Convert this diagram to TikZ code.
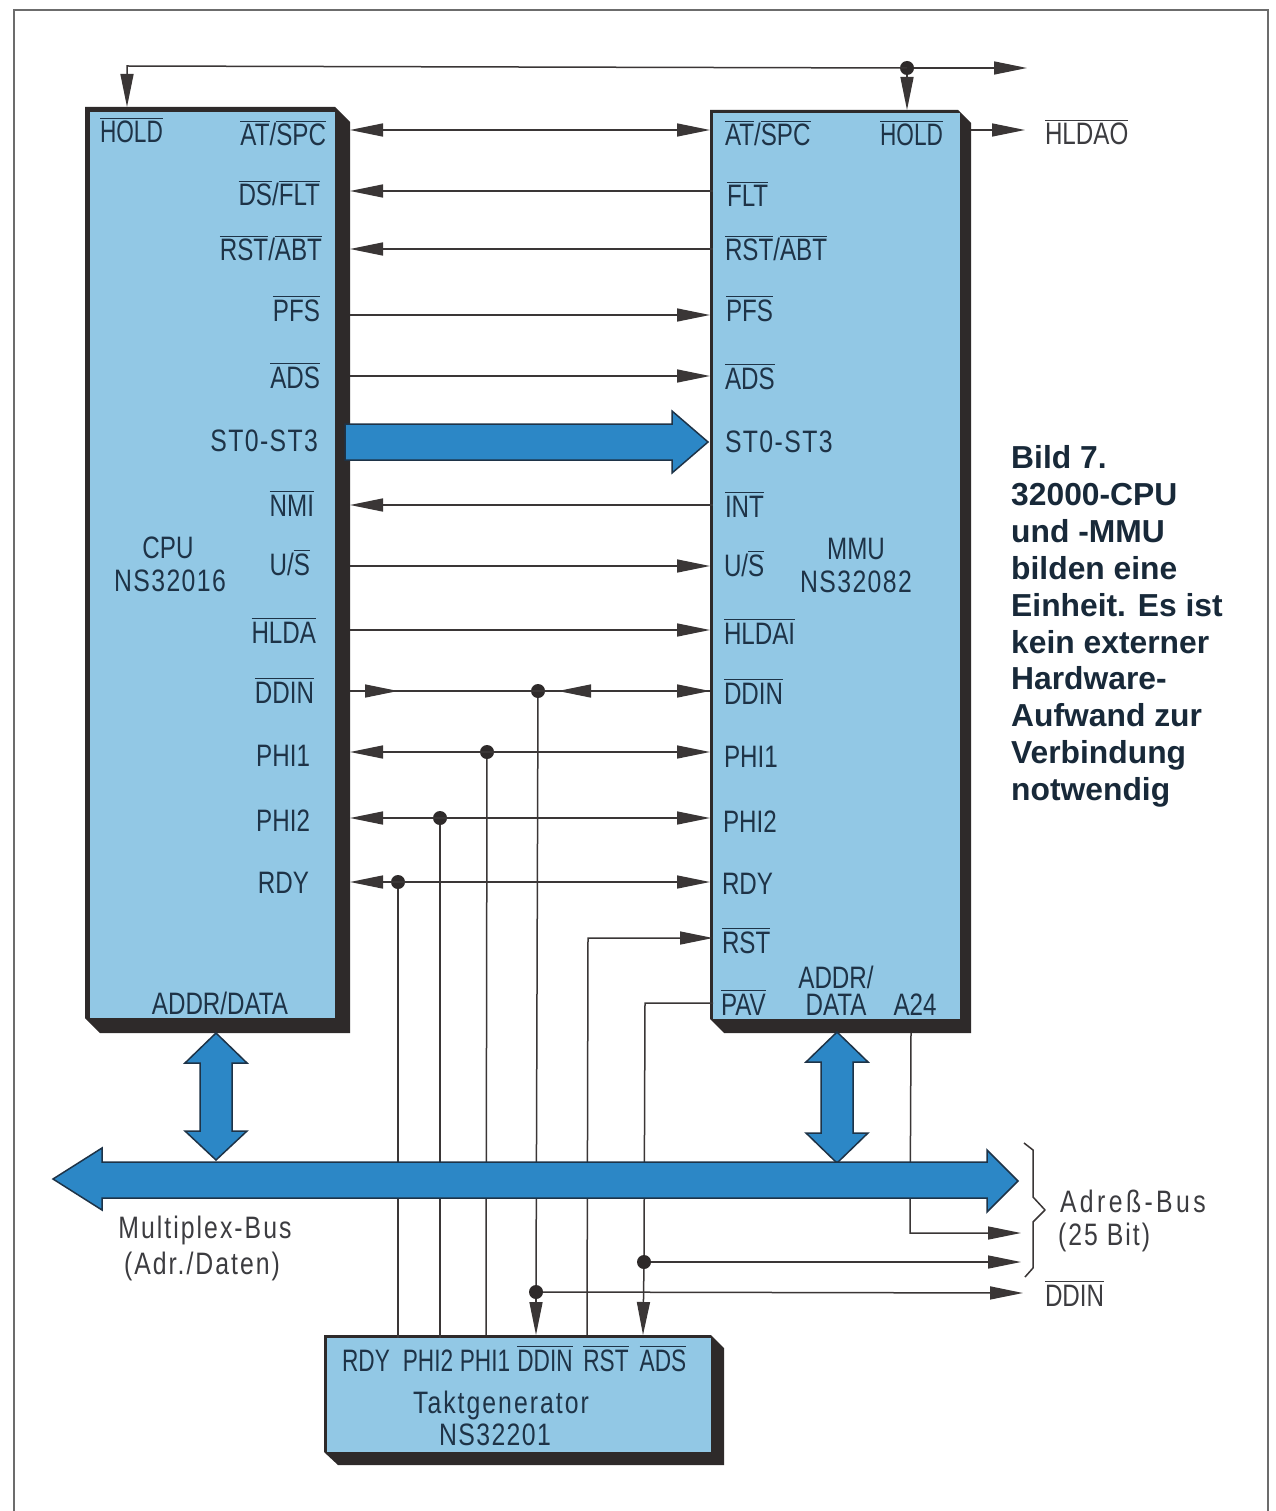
\documentclass[tikz,border=0pt]{standalone}
\usepackage{fontspec}
\setmainfont[FakeStretch=0.78]{Liberation Sans}
\newfontfamily\capfont{Liberation Sans}
\newfontfamily\tightf[FakeStretch=0.73]{Liberation Sans}
\newfontfamily\wideA[FakeStretch=0.8,LetterSpace=4.5]{Liberation Sans}
\newfontfamily\wideB[FakeStretch=0.8,LetterSpace=6.5]{Liberation Sans}
\newfontfamily\wideC[FakeStretch=0.8,LetterSpace=11]{Liberation Sans}
\usetikzlibrary{arrows.meta,shapes.geometric}
\definecolor{lightblue}{HTML}{92C8E5}
\definecolor{busblue}{HTML}{2C87C6}
\definecolor{shadowc}{HTML}{2E2A2A}
\definecolor{linec}{HTML}{3A3636}
\definecolor{textc}{HTML}{1E3347}
\definecolor{blackt}{HTML}{3C3C40}
\newcommand\ob[1]{\leavevmode\vbox{\hrule height 1.5pt \kern 2.2pt \hbox{#1}}}
\tikzset{
  sig/.style={draw=linec,line width=1.5pt},
  tip/.style={sig,-{Triangle[length=33pt,width=13pt]},shorten >=0pt},
  tipb/.style={sig,{Triangle[length=33pt,width=13pt]}-{Triangle[length=33pt,width=13pt]}},
  tipl/.style={sig,{Triangle[length=33pt,width=13pt]}-},
  dotn/.style={circle,fill=shadowc,minimum size=14pt,inner sep=0pt},
  outer/.style={rectangle,inner sep=0pt,outer sep=0pt},
  inner/.style={rectangle,fill=lightblue,inner sep=0pt,outer sep=0pt},
  shade/.style={fill=shadowc},
  lab/.style={font=\fontsize{31}{27}\selectfont,text=textc,inner sep=0pt,outer sep=0pt},
  labr/.style={lab,anchor=base east},
  labl/.style={lab,anchor=base west},
  labc/.style={lab,anchor=base},
  ext/.style={lab,text=blackt,anchor=base west},
  bus/.style={fill=busblue,draw=textc,line width=1.5pt,line join=miter},
  caplab/.style={font=\capfont\bfseries\fontsize{31.8}{37}\selectfont,text=textc!80!black,anchor=base west,inner sep=0pt},
}
\begin{document}
\begin{tikzpicture}[x=1pt,y=-1pt]
\useasboundingbox (0,0) rectangle (1275,1511);
\fill[white] (0,0) rectangle (1275,1511);
\draw[draw=gray!85!black,line width=2pt] (14,1511) -- (14,10) -- (1268,10) -- (1268,1511);

% shadows
\fill[shade] (85,107) -- (335,107) -- (350,122) -- (350,1033) -- (100,1033) -- (85,1018) -- cycle;
\fill[shade] (710,110) -- (958,110) -- (971,123) -- (971,1033) -- (724,1033) -- (710,1019) -- cycle;
\fill[shade] (324,1335) -- (711,1335) -- (724,1348) -- (724,1465) -- (338,1465) -- (324,1452) -- cycle;
% bodies
\node[inner,minimum width=245pt,minimum height=906pt] (cpu) at (212.5,565) {};
\node[inner,minimum width=247pt,minimum height=906pt] (mmu) at (836.5,566) {};
\node[inner,minimum width=384pt,minimum height=114pt] (clk) at (519,1395) {};
% outer extents used as connector ends
\node[outer,minimum width=265pt,minimum height=926pt] (cpuO) at (217.5,570) {};
\node[outer,minimum width=261pt,minimum height=923pt] (mmuO) at (840.5,571.5) {};
\node[outer,minimum width=400pt,minimum height=130pt] (clkO) at (524,1400) {};

% free ends
\coordinate (topR) at (1027,68);
\coordinate (hldaR) at (1025,130);
\coordinate (a24R) at (1021,1233);
\coordinate (adsR) at (1021,1262);
\coordinate (ddinR) at (1023,1293);

% top bus
\node[dotn] (d0) at (907,68) {};
\draw[tip] (d0) -- (topR);
\draw[tip] (d0.center) -- (127,66) -- (cpuO.north -| 127,0);
\draw[tip] (d0) -- (mmuO.north -| 907,0);
\draw[tip] (mmuO.east |- hldaR) -- (hldaR);

% horizontal signals
\draw[tipb] (cpuO.east |- 0,130) -- (mmuO.west |- 0,130);
\draw[tipl] (cpuO.east |- 0,191) -- (mmu.west |- 0,191);
\draw[tipl] (cpuO.east |- 0,249) -- (mmu.west |- 0,249);
\draw[tip] (cpuO.east |- 0,315) -- (mmuO.west |- 0,315);
\draw[tip] (cpuO.east |- 0,376) -- (mmuO.west |- 0,376);
\draw[tipl] (cpuO.east |- 0,505) -- (mmu.west |- 0,505);
\draw[tip] (cpuO.east |- 0,566) -- (mmuO.west |- 0,566);
\draw[tip] (cpuO.east |- 0,630) -- (mmuO.west |- 0,630);

% DDIN with dot and mid arrows
\node[dotn] (d1) at (538,691) {};
\draw[sig] (cpuO.east |- d1) -- (mmuO.west |- d1);
\draw[tip,shorten <=0pt] (365,691) -- (398,691);
\draw[tipl] (558,691) -- (591,691);
\draw[tip] (590,691) -- (mmuO.west |- d1);

\node[dotn] (d2) at (487,752) {};
\draw[tipb] (cpuO.east |- d2) -- (mmuO.west |- d2);
\node[dotn] (d3) at (440,818) {};
\draw[tipb] (cpuO.east |- d3) -- (mmuO.west |- d3);
\node[dotn] (d4) at (398,882) {};
\draw[tipb] (cpuO.east |- d4) -- (mmuO.west |- d4);

% verticals to clock
\draw[sig] (d4) -- (clk.north -| d4);
\draw[sig] (d3) -- (clk.north -| d3);
\draw[sig] (d2) -- (486,1335);
\node[dotn] (d5) at (536,1292) {};
\draw[sig] (d1) -- (d5);
\draw[tip] (d5) -- (clkO.north -| d5);
\draw[tip] (d5) -- (ddinR);
\draw[tip] (587,1335) -- (588,938) -- (mmu.west |- 0,938);
\node[dotn] (d6) at (644,1262) {};
\draw[sig] (mmu.west |- 0,1003) -- (645,1003) -- (d6);
\draw[tip] (d6) -- (643,1335);
\draw[tip] (d6) -- (adsR);
\draw[tip] (mmuO.south -| 911,0) -- (910,1233) -- (a24R);

% block arrows
\path[bus] (345,424) -- (672,424) -- (672,411) -- (708,442) -- (672,473) -- (672,460) -- (345,460) -- cycle;
\path[bus] (216,1033) -- (247,1063) -- (232,1063) -- (232,1131) -- (247,1131) -- (216,1160) -- (185,1131) -- (200,1131) -- (200,1063) -- (185,1063) -- cycle;
\path[bus] (837,1032) -- (868,1062) -- (853,1062) -- (853,1133) -- (868,1133) -- (837,1163) -- (806,1133) -- (821,1133) -- (821,1062) -- (806,1062) -- cycle;
\path[bus] (53,1179) -- (102,1148) -- (102,1162) -- (987,1162) -- (987,1150) -- (1018,1181) -- (987,1212) -- (987,1198) -- (102,1198) -- (102,1210) -- cycle;

% brace
\draw[draw=linec,line width=1.5pt,line join=round] (1024,1143) -- (1033,1150) -- (1033,1197) -- (1045,1210) -- (1033,1222) -- (1033,1268) -- (1025,1277);

% CPU labels
\node[labl] (l1) at (100,143) {\tightf\ob{HOLD}};
\node[labr] (l2) at (326,146) {\ob{AT}/\ob{SPC}};
\node[labr] (l3) at (320,206) {\ob{DS}/\ob{FLT}};
\node[labr] (l4) at (322,261) {\ob{RST}/\ob{ABT}};
\node[labr] (l5) at (320,321) {\ob{PFS}};
\node[labr] (l6) at (320,388) {\ob{ADS}};
\node[labr] (l7) at (318,451) {\wideA ST0-ST3};
\node[labr] (l8) at (314,516) {\ob{NMI}};
\node[labr] (l9) at (310,575) {U/\ob{S}};
\node[labr] (l10) at (316,643) {\ob{HLDA}};
\node[labr] (l11) at (314,703) {\ob{DDIN}};
\node[labr] (l12) at (310,766) {PHI1};
\node[labr] (l13) at (310,831) {PHI2};
\node[labr] (l14) at (309,893) {RDY};
\node[labc] (l15) at (168,558) {CPU};
\node[labc] (l16) at (170,591) {\wideA NS32016};
\node[labc] (l17) at (220,1014) {ADDR/DATA};

% MMU labels
\node[labl] (m1) at (725,146) {\ob{AT}/\ob{SPC}};
\node[labr] (m2) at (943,146) {\tightf\ob{HOLD}};
\node[labl] (m3) at (727,207) {\ob{FLT}};
\node[labl] (m4) at (725,261) {\ob{RST}/\ob{ABT}};
\node[labl] (m5) at (726,321) {\ob{PFS}};
\node[labl] (m6) at (725,389) {\ob{ADS}};
\node[labl] (m7) at (725,452) {\wideA ST0-ST3};
\node[labl] (m8) at (725,517) {\ob{INT}};
\node[labl] (m9) at (724,576) {U/\ob{S}};
\node[labl] (m10) at (724,644) {\ob{HLDAI}};
\node[labl] (m11) at (724,704) {\ob{DDIN}};
\node[labl] (m12) at (724,767) {PHI1};
\node[labl] (m13) at (723,832) {PHI2};
\node[labl] (m14) at (722,894) {RDY};
\node[labl] (m15) at (722,953) {\ob{RST}};
\node[labl] (m16) at (721,1015) {\ob{PAV}};
\node[labc] (m17) at (856,559) {MMU};
\node[labc] (m18) at (856,592) {\wideA NS32082};
\node[lab,anchor=base,align=center] (m19) at (836,1015) {ADDR/\\DATA};
\node[labc] (m21) at (915,1015) {A24};

% clock labels
\node[labc] (c1) at (366,1371) {\tightf RDY};
\node[labc] (c2) at (428,1371) {\tightf PHI2};
\node[labc] (c3) at (485,1371) {\tightf PHI1};
\node[labc] (c4) at (545,1371) {\tightf\ob{DDIN}};
\node[labc] (c5) at (606,1371) {\tightf\ob{RST}};
\node[labc] (c6) at (663,1371) {\tightf\ob{ADS}};
\node[labc] (c7) at (501,1413) {\wideB Taktgenerator};
\node[labc] (c8) at (495,1445) {\wideA NS32201};

% outside labels
\node[ext] (e1) at (1045,145) {\ob{HLDAO}};
\node[ext] (e2) at (1045,1306) {\ob{DDIN}};
\node[ext] (e3) at (1060,1212) {\wideC Adreß-Bus};
\node[ext] (e4) at (1058,1245) {\wideB (25 Bit)};
\node[lab,text=blackt,anchor=base] (e5) at (205,1238) {\wideB Multiplex-Bus};
\node[lab,text=blackt,anchor=base] (e6) at (202,1274) {\wideB (Adr./Daten)};

% caption
\node[caplab] (t1) at (1011,468) {Bild 7.};
\node[caplab] (t2) at (1011,505) {32000-CPU};
\node[caplab] (t3) at (1011,542) {und -MMU};
\node[caplab] (t4) at (1011,579) {bilden eine};
\node[caplab] (t5) at (1011,616) {Einheit. Es ist};
\node[caplab] (t6) at (1011,653) {kein externer};
\node[caplab] (t7) at (1011,689) {Hardware-};
\node[caplab] (t8) at (1011,726) {Aufwand zur};
\node[caplab] (t9) at (1011,763) {Verbindung};
\node[caplab] (t10) at (1011,800) {notwendig};
\end{tikzpicture}
\end{document}
